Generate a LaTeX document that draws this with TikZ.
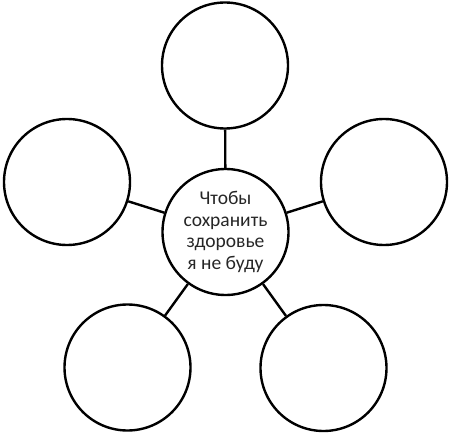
\documentclass[tikz,border=0pt]{standalone}
\usepackage{fontspec}
\setmainfont{Carlito}
\begin{document}
\begin{tikzpicture}[x=1pt,y=-1pt,
  bubble/.style={circle,draw=black,line width=2.4pt,minimum size=126pt,inner sep=0pt,align=center,
    font=\fontsize{19.5}{21.6}\selectfont,text=black!85},
  link/.style={draw=black,line width=2.4pt}]
\useasboundingbox (0,0) rectangle (450,433);
\node[bubble] (c) at (225.5,232) {Чтобы\\сохранить\\здоровье\\я не буду};
\node[bubble] (t) at (225,65.5) {};
\node[bubble] (l) at (67,182) {};
\node[bubble] (r) at (384,182) {};
\node[bubble] (bl) at (127.5,367.5) {};
\node[bubble] (br) at (323.5,368) {};
\draw[link] (c) -- (t);
\draw[link] (c) -- (l);
\draw[link] (c) -- (r);
\draw[link] (c) -- (bl);
\draw[link] (c) -- (br);
\end{tikzpicture}
\end{document}
